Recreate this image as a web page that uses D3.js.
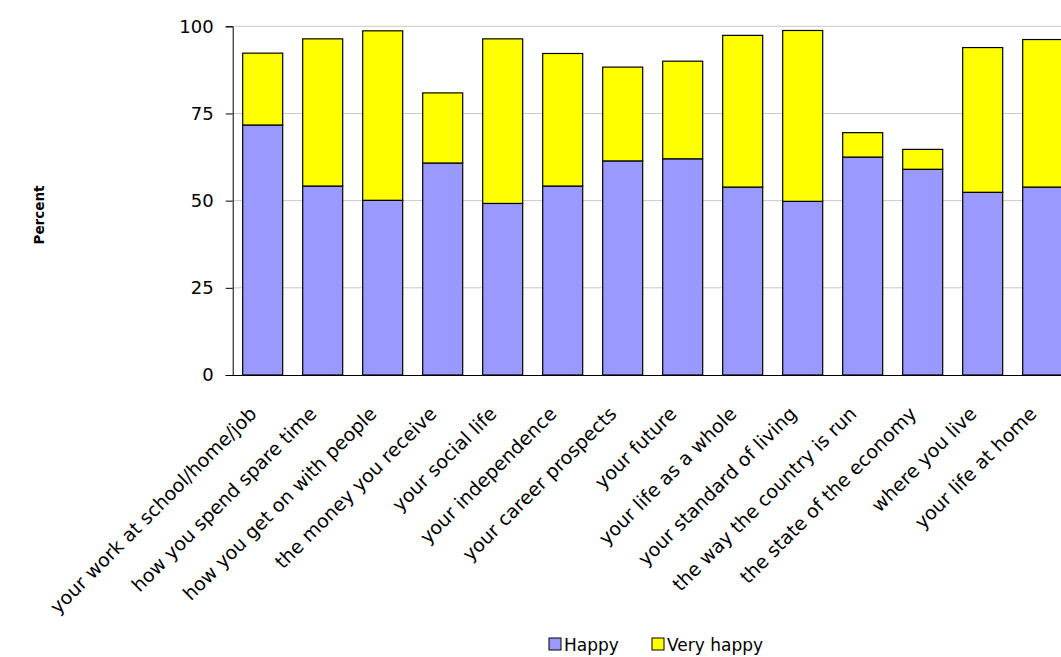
<!DOCTYPE html>
<html>
<head>
<meta charset="utf-8">
<script src="https://cdn.jsdelivr.net/npm/d3@7"></script>
<style>
  html, body { margin: 0; padding: 0; background: #fff; }
  svg { display: block; font-family: "DejaVu Sans", Verdana, sans-serif; }
</style>
</head>
<body>
<svg id="chart" width="1061" height="657"></svg>
<script>
// Satisfaction topics along the x axis
const categories = [
  "your work at school/home/job",
  "how you spend spare time",
  "how you get on with people",
  "the money you receive",
  "your social life",
  "your independence",
  "your career prospects",
  "your future",
  "your life as a whole",
  "your standard of living",
  "the way the country is run",
  "the state of the economy",
  "where you live",
  "your life at home"
];

// Percent answering "Happy"
const happy = [71.7, 54.2, 50.1, 60.8, 49.2, 54.2, 61.4, 62.0, 53.9, 49.8, 62.5, 59.0, 52.4, 53.9];

// Percent answering "Very happy" (stacked on top)
const veryHappy = [20.6, 42.2, 48.6, 20.1, 47.2, 38.0, 26.9, 28.0, 43.5, 49.0, 7.0, 5.7, 41.5, 42.3];

const seriesNames = ["Happy", "Very happy"];
const seriesColors = ["#9999FF", "#FFFF00"];
const yTicks = [0, 25, 50, 75, 100];

const svg = d3.select("#chart");

const x = d3.scaleBand()
  .domain(categories)
  .range([232.7, 1072.7])
  .paddingInner(1 / 3)
  .paddingOuter(1 / 6);

const y = d3.scaleLinear().domain([0, 100]).range([375, 26.3]);

const rows = categories.map((c, i) => ({ category: c, Happy: happy[i], "Very happy": veryHappy[i] }));
const stacked = d3.stack().keys(seriesNames)(rows);

// Horizontal gridlines
svg.append("g")
  .selectAll("line")
  .data(yTicks.filter(t => t > 0))
  .join("line")
  .attr("x1", 232.7).attr("x2", 1061)
  .attr("y1", d => y(d)).attr("y2", d => y(d))
  .attr("stroke", "#c8c8c8").attr("stroke-width", 1);

// Stacked bars
const layers = svg.append("g")
  .selectAll("g")
  .data(stacked)
  .join("g")
  .attr("fill", (d, i) => seriesColors[i]);

layers.selectAll("rect")
  .data(d => d)
  .join("rect")
  .attr("x", d => x(d.data.category))
  .attr("width", x.bandwidth())
  .attr("y", d => y(d[1]))
  .attr("height", d => y(d[0]) - y(d[1]))
  .attr("stroke", "#000")
  .attr("stroke-width", 1.2);

// Y axis
const yAxis = d3.axisLeft(y).tickValues(yTicks).tickSize(7).tickPadding(12).tickFormat(d3.format("d"));
const yg = svg.append("g").attr("transform", "translate(232.7,0)").call(yAxis);
yg.select(".domain").attr("stroke", "#000");
yg.selectAll(".tick line").attr("stroke", "#000");
yg.selectAll(".tick text").attr("font-size", 18).attr("fill", "#000")
  .attr("font-family", "'DejaVu Sans', Verdana, sans-serif");

// X axis baseline and rotated category labels
const xAxis = d3.axisBottom(x).tickSize(0).tickPadding(0);
const xg = svg.append("g").attr("transform", "translate(0,375)").call(xAxis);
xg.select(".domain").attr("d", "M232.7,0.5H1061").attr("stroke", "#000");
xg.selectAll(".tick text")
  .attr("font-size", 19)
  .attr("fill", "#000")
  .attr("font-family", "'DejaVu Sans', Verdana, sans-serif")
  .attr("text-anchor", "end")
  .attr("dy", null)
  .attr("y", 0)
  .attr("transform", "translate(-5,40) rotate(-45)");

// Y axis title
svg.append("text")
  .attr("transform", "translate(44,215) rotate(-90)")
  .attr("text-anchor", "middle")
  .attr("font-size", 13.5)
  .attr("font-weight", "bold")
  .attr("fill", "#000")
  .text("Percent");

// Legend
const legend = svg.append("g").attr("transform", "translate(549,638)");
const items = [
  { name: seriesNames[0], color: seriesColors[0], dx: 0 },
  { name: seriesNames[1], color: seriesColors[1], dx: 103 }
];
const li = legend.selectAll("g").data(items).join("g")
  .attr("transform", d => `translate(${d.dx},0)`);
li.append("rect")
  .attr("x", 0).attr("y", 0).attr("width", 12).attr("height", 12)
  .attr("fill", d => d.color).attr("stroke", "#000").attr("stroke-width", 1);
li.append("text")
  .attr("x", 15).attr("y", 12.5)
  .attr("font-size", 17).attr("fill", "#000")
  .text(d => d.name);
</script>
</body>
</html>
